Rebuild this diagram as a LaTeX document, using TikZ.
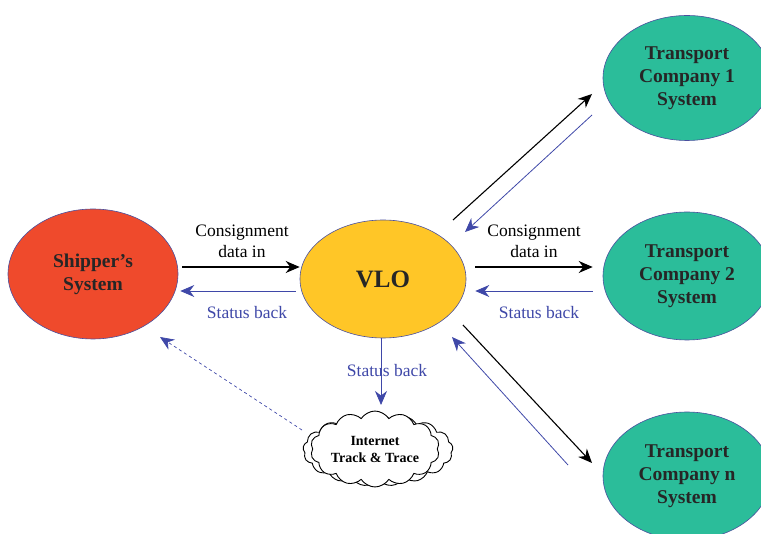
\documentclass[tikz,border=0pt]{standalone}
\usepackage{fontspec}
\setmainfont{Liberation Serif}
\usetikzlibrary{shapes.geometric,shapes.symbols,arrows.meta,calc}
\definecolor{shipred}{HTML}{EF4A2C}
\definecolor{vloyellow}{HTML}{FFC627}
\definecolor{tcgreen}{HTML}{2BBD9A}
\definecolor{rimblue}{HTML}{4A4F9E}
\definecolor{backblue}{HTML}{3F48A8}
\begin{document}
\begin{tikzpicture}[x=1pt, y=-1pt]
\tikzstyle{sys} = [ellipse, draw=rimblue, line width=0.6pt, inner sep=0pt, align=center, font=\fontsize{19.5}{23}\selectfont\bfseries, text=black!85]
\tikzstyle{arrow} = [line width=1.1pt, -{Stealth[length=14pt, width=12pt]}]
\tikzstyle{back} = [backblue, line width=0.8pt, -{Stealth[length=14pt, width=12pt]}]
\tikzstyle{lbl} = [font=\fontsize{17.5}{21}\selectfont, align=center, inner sep=0pt]
\useasboundingbox (0,0) rectangle (761,534);

\node[sys, fill=shipred, minimum width=170pt, minimum height=130pt] (shipper) at (93,274) {Shipper's\\System};
\node[sys, fill=vloyellow, minimum width=166pt, minimum height=118pt, font=\fontsize{25}{28}\selectfont\bfseries] (vlo) at (383,279) {VLO};
\node[sys, fill=tcgreen, minimum width=168pt, minimum height=125pt] (tc1) at (687,78) {Transport\\Company 1\\System};
\node[sys, fill=tcgreen, minimum width=168pt, minimum height=128pt] (tc2) at (687,276) {Transport\\Company 2\\System};
\node[sys, fill=tcgreen, minimum width=168pt, minimum height=128pt] (tcn) at (687,476) {Transport\\Company n\\System};
\node[cloud, cloud puffs=17, cloud puff arc=110, aspect=2.2, draw, fill=white, line width=0.9pt, minimum width=150pt, minimum height=72pt] (cloudback) at (378,450) {};
\node[cloud, cloud puffs=14, cloud puff arc=115, aspect=2.0, inner sep=0pt, draw, fill=white, line width=0.9pt, minimum width=124pt, minimum height=68pt, align=center, font=\fontsize{14}{17}\selectfont\bfseries] (cloud) at (375,449) {Internet\\Track \& Trace};

\node[lbl] (cons1) at (242,241) {Consignment\\data in};
\node[lbl, text=backblue] (stat1) at (247,313) {Status back};
\node[lbl] (cons2) at (534,241) {Consignment\\data in};
\node[lbl, text=backblue] (stat2) at (539,313) {Status back};
\node[lbl, text=backblue] (stat3) at (387,371) {Status back};

\draw[arrow] ($(shipper.east)+(4,-7)$) -- ($(vlo.west)+(0,-12)$);
\draw[back] ($(vlo.west)+(-4,12)$) -- ($(shipper.east)+(2,17)$);
\draw[arrow] ($(vlo.east)+(9,-12)$) -- ($(tc2.west)+(-10,-9)$);
\draw[back] ($(tc2.west)+(-10,15)$) -- ($(vlo.east)+(9,12)$);
\draw[arrow] ($(vlo.center)+(70,-59)$) -- ($(tc1.center)+(-95,16)$);
\draw[back] ($(tc1.center)+(-95,37)$) -- ($(vlo.center)+(82,-47)$);
\draw[arrow] ($(vlo.center)+(80,46)$) -- ($(tcn.center)+(-95,-13)$);
\draw[back] ($(tcn.center)+(-119,-11)$) -- ($(vlo.center)+(69,58)$);
\draw[back] ($(vlo.south)+(-2,0)$) -- (381,405);
\draw[back, dashed, line width=0.7pt] ($(cloudback.center)+(-76,-20)$) -- ($(shipper.center)+(67,63)$);
\end{tikzpicture}
\end{document}
